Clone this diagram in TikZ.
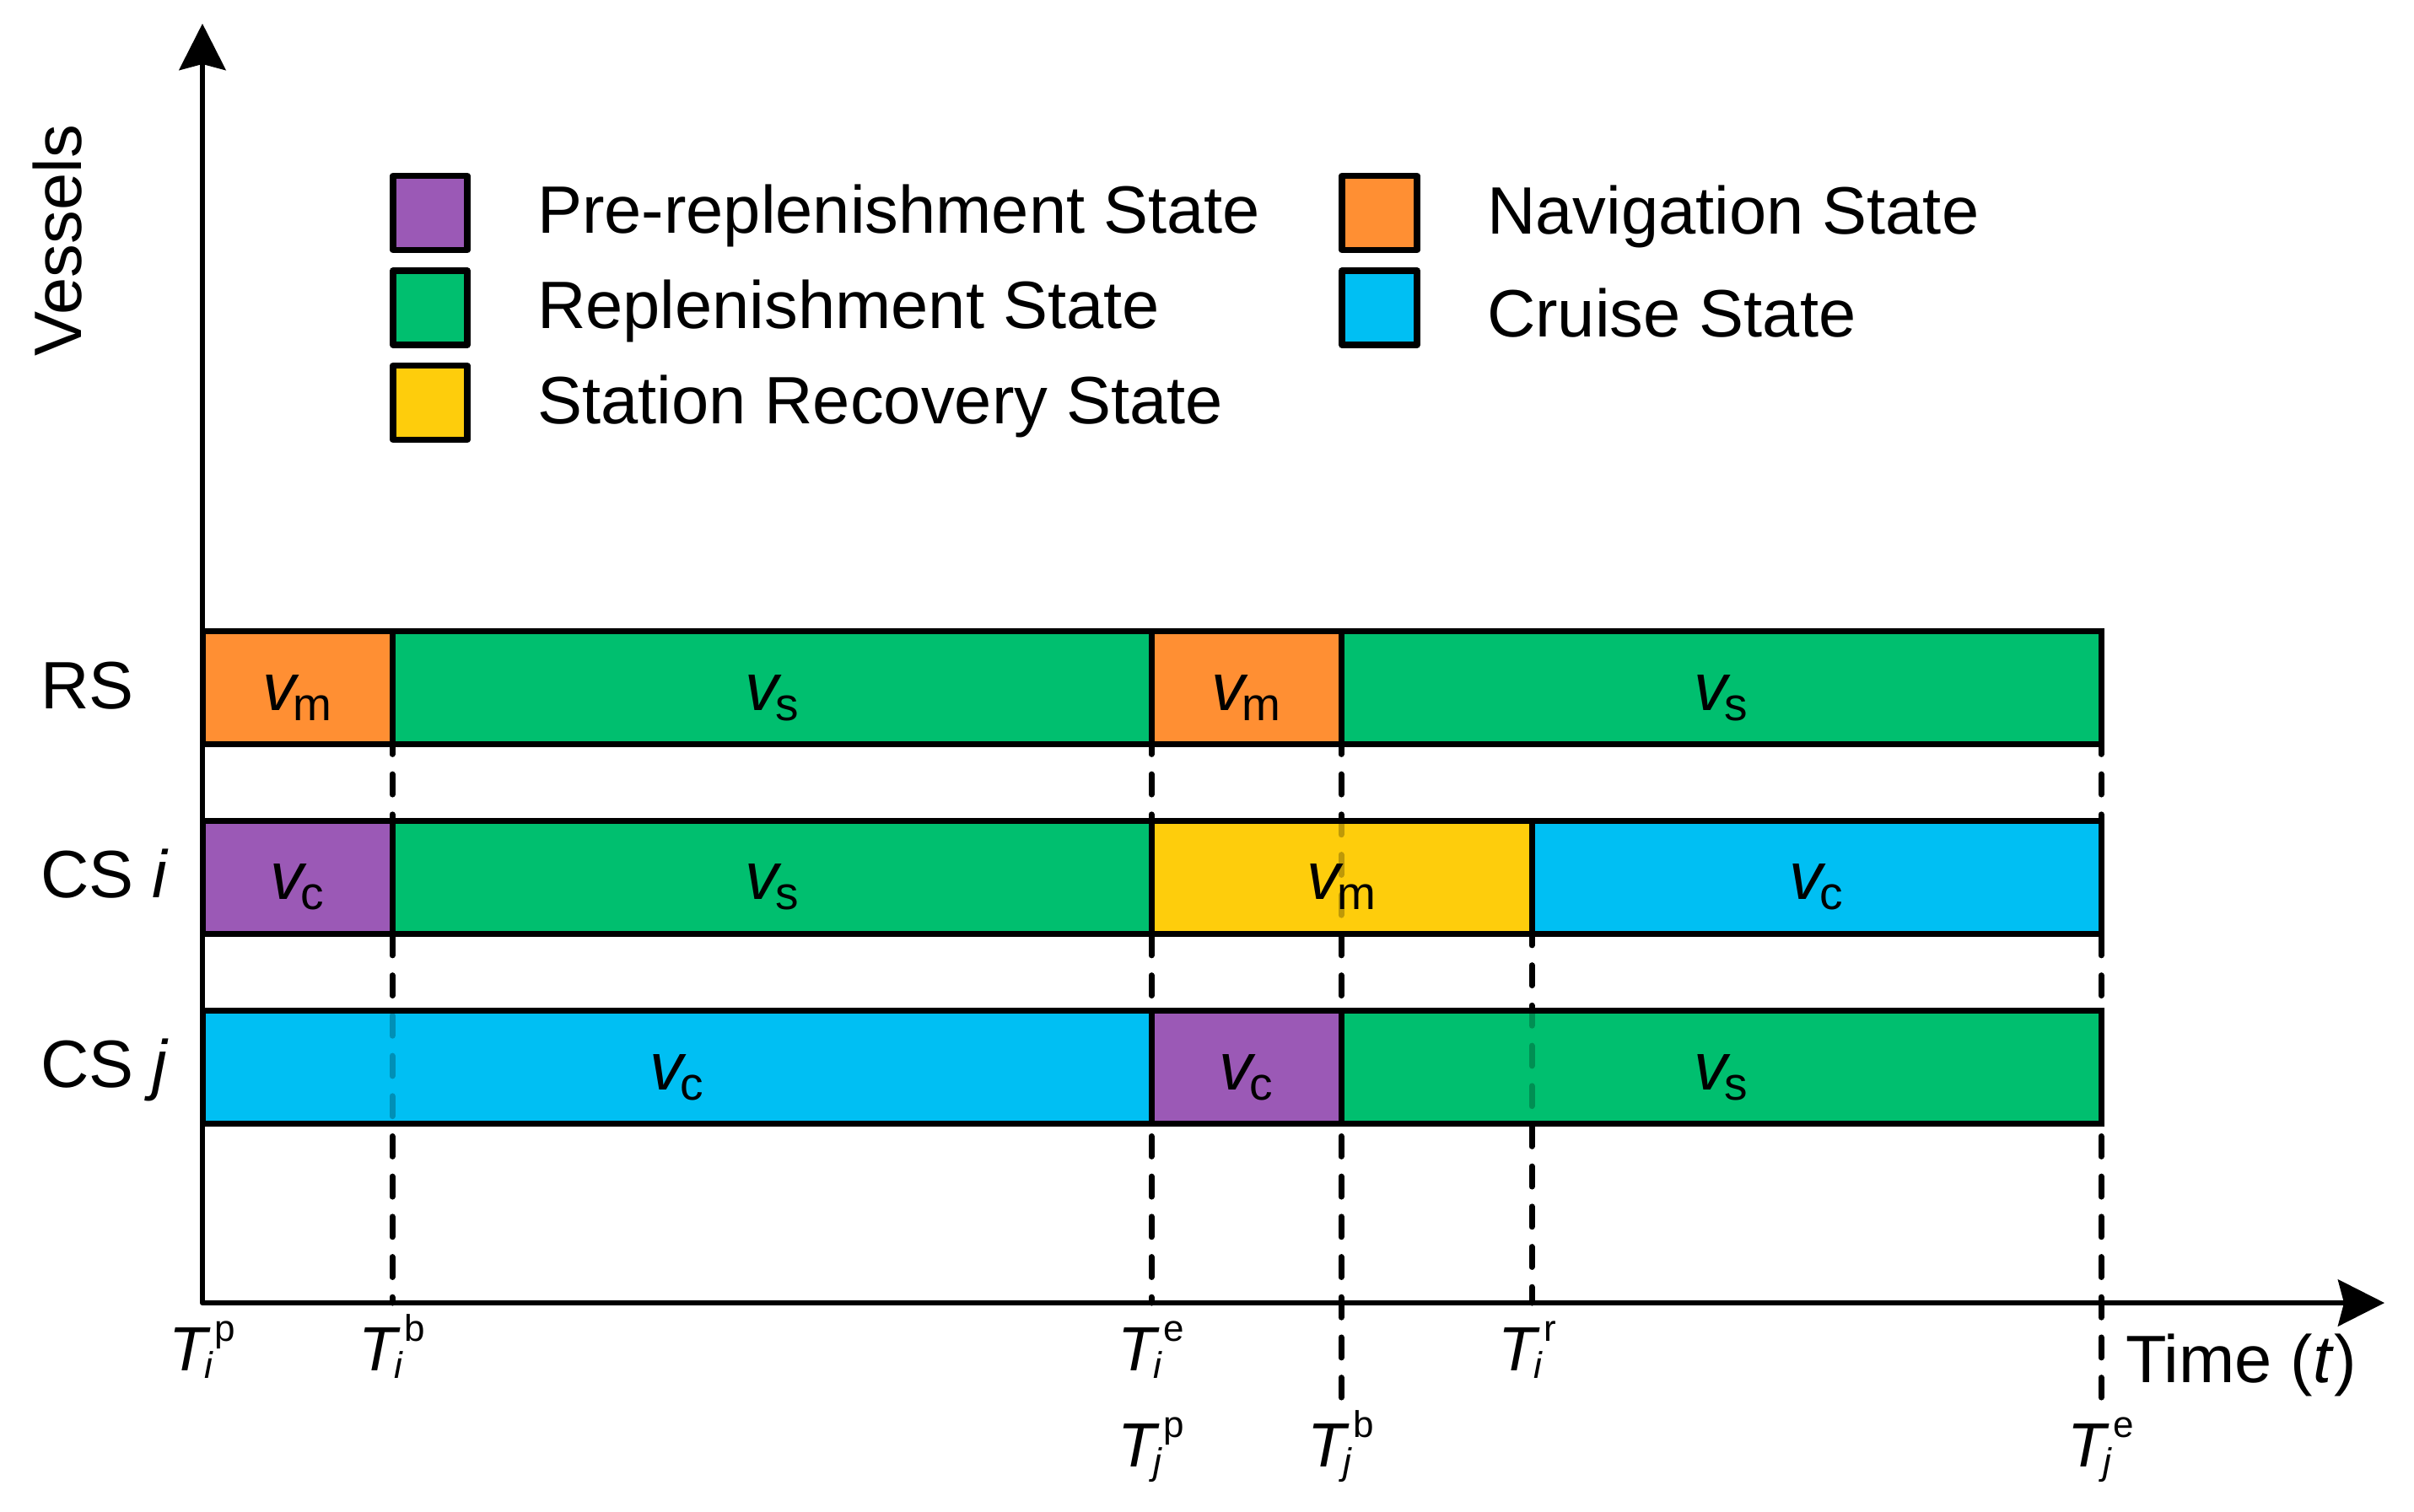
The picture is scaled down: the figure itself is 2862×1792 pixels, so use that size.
\documentclass[tikz,border=0pt]{standalone}
\usepackage{fontspec}
\setmainfont{Liberation Sans}
\usetikzlibrary{arrows.meta}
\definecolor{cpurple}{HTML}{9B59B6}
\definecolor{corange}{HTML}{FF8F33}
\definecolor{cgreen}{HTML}{00BF6F}
\definecolor{cyellow}{HTML}{FECD0C}
\definecolor{ccyan}{HTML}{00BFF3}
\newcommand{\mainsize}{\fontsize{79.5}{95}\selectfont}
\newcommand{\vlab}[1]{{\itshape v}\hspace{-4pt}\raisebox{-12pt}{\fontsize{55}{66}\selectfont #1}}
\newcommand{\Tlab}[2]{{\fontsize{74}{88}\selectfont\itshape T}\rlap{\hspace{9pt}\raisebox{35pt}{\fontsize{44}{53}\selectfont #2}}\hspace{-3pt}\raisebox{-9pt}{\fontsize{44}{53}\selectfont\itshape #1}}
\begin{document}
\begin{tikzpicture}[x=1pt,y=-1pt,
  every node/.style={inner sep=0pt,outer sep=0pt,font=\mainsize},
  axisline/.style={line width=6.5pt,line join=round,{Stealth[length=55pt,width=55pt,inset=7pt]}-{Stealth[length=55pt,width=55pt,inset=7pt]}},
  cell/.style={draw=black,line width=7pt},
  legbox/.style={draw=black,line width=7.7pt,line join=round},
  guide/.style={line width=7pt,line cap=round,dash pattern=on 23.8pt off 23.9pt,dash phase=11.5pt},
  guideb/.style={guide,dash phase=10pt},
  faint/.style={draw opacity=0.25},
  vlabel/.style={anchor=base},
  tlabel/.style={anchor=base west},
  leg/.style={anchor=base west},
  rowlab/.style={anchor=base west}]
\useasboundingbox (0,0) rectangle (2862,1792);
% axes
\coordinate (O) at (240,1545);
\coordinate (ytip) at (240,28);
\coordinate (xtip) at (2827,1545);
\draw[axisline] (ytip) -- (O) -- (xtip);
\node[rotate=90,anchor=base west] (vessels) at (96,422) {Vessels};
\node[anchor=base west] (time) at (2520,1639) {Time (\textit{t})};
% guide coordinates
\coordinate (g1a) at (465,882);  \coordinate (g1b) at (465,1545);
\coordinate (g2a) at (1365,882); \coordinate (g2b) at (1365,1545);
\coordinate (g3a) at (1590,882); \coordinate (g3b) at (1590,1657);
\coordinate (g4a) at (1816,1107);\coordinate (g4b) at (1816,1545);
\coordinate (g5a) at (2491,882); \coordinate (g5b) at (2491,1657);
\draw[guide] (g1a) -- (g1b);
\draw[guide] (g2a) -- (g2b);
\draw[guide] (g3a) -- (g3b);
\draw[guideb] (g4a) -- (g4b);
\draw[guide] (g5a) -- (g5b);
% RS row
\draw[cell,fill=corange] (240,748) rectangle (465,882);
\draw[cell,fill=cgreen] (465,748) rectangle (1365,882);
\draw[cell,fill=corange] (1365,748) rectangle (1590,882);
\draw[cell,fill=cgreen] (1590,748) rectangle (2491,882);
% CS i row
\draw[cell,fill=cpurple] (240,973) rectangle (465,1107);
\draw[cell,fill=cgreen] (465,973) rectangle (1365,1107);
\draw[cell,fill=cyellow] (1365,973) rectangle (1816,1107);
\draw[cell,fill=ccyan] (1816,973) rectangle (2491,1107);
% CS j row
\draw[cell,fill=ccyan] (240,1198) rectangle (1365,1332);
\draw[cell,fill=cpurple] (1365,1198) rectangle (1590,1332);
\draw[cell,fill=cgreen] (1590,1198) rectangle (2491,1332);
% cell labels
\node[vlabel] (rs1) at (352.5,842) {\vlab{m}};
\node[vlabel] (rs2) at (915,842) {\vlab{s}};
\node[vlabel] (rs3) at (1477.5,842) {\vlab{m}};
\node[vlabel] (rs4) at (2040.5,842) {\vlab{s}};
\node[vlabel] (ci1) at (352.5,1066) {\vlab{c}};
\node[vlabel] (ci2) at (915,1066) {\vlab{s}};
\node[vlabel] (ci3) at (1590.5,1066) {\vlab{m}};
\node[vlabel] (ci4) at (2153.5,1066) {\vlab{c}};
\node[vlabel] (cj1) at (802.5,1292) {\vlab{c}};
\node[vlabel] (cj2) at (1477.5,1292) {\vlab{c}};
\node[vlabel] (cj3) at (2040.5,1292) {\vlab{s}};
% faint guides over bars
\draw[guide,faint] (g1a) -- (g1b);
\draw[guide,faint] (g2a) -- (g2b);
\draw[guide,faint] (g3a) -- (g3b);
\draw[guideb,faint] (g4a) -- (g4b);
\draw[guide,faint] (g5a) -- (g5b);
% row labels
\node[rowlab] (rs) at (48,840) {RS};
\node[rowlab] (csi) at (48,1064) {CS \textit{i}};
\node[rowlab] (csj) at (48,1289) {CS \textit{j}};
% time labels
\node[tlabel] (tip) at (200,1625) {\Tlab{i}{p}};
\node[tlabel] (tib) at (425,1625) {\Tlab{i}{b}};
\node[tlabel] (tie) at (1325,1625) {\Tlab{i}{e}};
\node[tlabel] (tir) at (1776,1625) {\Tlab{i}{r}};
\node[tlabel] (tjp) at (1325,1739) {\Tlab{j}{p}};
\node[tlabel] (tjb) at (1550,1739) {\Tlab{j}{b}};
\node[tlabel] (tje) at (2451,1739) {\Tlab{j}{e}};
% legend
\draw[legbox,fill=cpurple] (466,208.5) rectangle (554,296.5);
\draw[legbox,fill=cgreen] (466,321) rectangle (554,409);
\draw[legbox,fill=cyellow] (466,433.5) rectangle (554,521.5);
\draw[legbox,fill=corange] (1591,208.5) rectangle (1680,296.5);
\draw[legbox,fill=ccyan] (1591,321) rectangle (1680,409);
\node[leg] (l1) at (637,276) {Pre-replenishment State};
\node[leg] (l2) at (637,389) {Replenishment State};
\node[leg] (l3) at (637,502) {Station Recovery State};
\node[leg] (l4) at (1763,277) {Navigation State};
\node[leg] (l5) at (1763,399) {Cruise State};
\end{tikzpicture}
\end{document}
